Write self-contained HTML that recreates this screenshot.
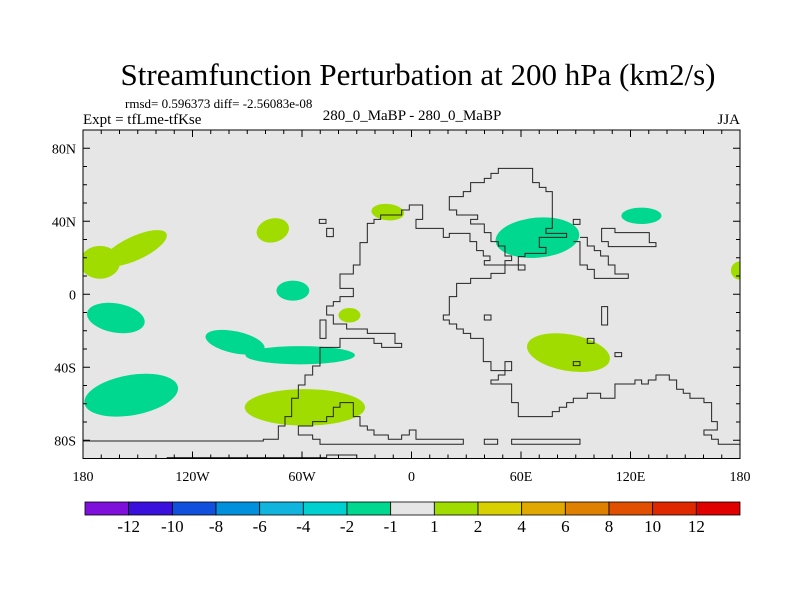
<!DOCTYPE html>
<html><head><meta charset="utf-8">
<style>
body{margin:0;background:#fff;}
svg text{font-family:"Liberation Serif",serif;fill:#000;}
</style></head>
<body>
<svg id="chart" width="800" height="600" viewBox="0 0 800 600" xmlns="http://www.w3.org/2000/svg">
<text x="418" y="85" font-size="31" text-anchor="middle">Streamfunction Perturbation at 200 hPa (km2/s)</text>
<text x="125" y="108" font-size="13">rmsd= 0.596373 diff= -2.56083e-08</text>
<text x="83" y="124" font-size="15">Expt = tfLme-tfKse</text>
<text x="412" y="120" font-size="15" text-anchor="middle">280_0_MaBP - 280_0_MaBP</text>
<text x="740" y="124" font-size="15" text-anchor="end">JJA</text>
<defs><clipPath id="pc"><rect x="83" y="130" width="657" height="328.5"/></clipPath></defs>
<rect x="83" y="130" width="657" height="328.5" fill="#e6e6e6"/>
<g id="blobs" clip-path="url(#pc)"></g>
<g clip-path="url(#pc)">
<g transform="translate(250,160) scale(0.3333)" fill="none" stroke="#222" stroke-width="1">
<path vector-effect="non-scaling-stroke" d="M-501,843 L40,843 L40,838 L85,838 L85,798 L105,798 L105,770 L125,770 L125,715 L145,715 L145,675 L165,675 L165,645 L188,645 L188,618 L210,618 L210,562 L270,562 L270,535 L372,535 L372,550 L395,550 L395,562 L455,562 L455,550 L435,550 L435,520 L352,520 L352,507 L290,507 L290,492 L250,492 L250,465 L230,465 L230,438 L250,438 L250,425 L270,425 L270,410 L310,410 L310,385 L270,385 L270,342 L310,342 L310,315 L330,315 L330,248 L352,248 L352,190 L372,190 L372,178 L392,178 L392,165 L455,165 L455,150 L478,150 L478,135 L518,135 L518,178 L498,178 L498,205 L580,205 L580,232 L598,232 L598,220 L660,220 L660,245 L680,245 L680,272 L700,272 L700,288 L720,288 L720,302 L703,302 L703,315 L805,315"/>
<path vector-effect="non-scaling-stroke" d="M765,315 L765,340 L723,340 L723,355 L662,355 L662,370 L620,370 L620,410 L598,410 L598,465 L580,465 L580,480 L598,480 L598,492 L620,492 L620,507 L640,507 L640,520 L662,520 L662,535 L700,535 L700,605 L723,605 L723,632 L765,632 L765,605 L785,605 L785,632 L765,632 L765,645 L745,645 L745,660 L723,660 L723,672 L785,672 L785,728 L805,728 L805,770 L907,770 L907,755 L928,755 L928,742 L950,742 L950,728 L970,728 L970,715 L1012,715 L1012,700 L1052,700 L1052,715 L1095,715 L1095,672 L1155,672 L1155,660 L1175,660 L1175,672 L1195,672 L1195,660 L1218,660 L1218,645 L1258,645 L1258,660 L1280,660 L1280,688 L1300,688 L1300,700 L1320,700 L1320,715 L1362,715 L1362,728 L1385,728 L1385,785 L1402,785 L1402,810 L1362,810 L1362,825 L1385,825 L1385,838 L1405,838 L1405,853 L1475,853"/>
<path vector-effect="non-scaling-stroke" d="M805,315 L805,290 L825,290 L825,280 L888,280 L888,262 L868,262 L868,232 L950,232 L950,220 L888,220 L888,205 L907,205 L907,95 L888,95 L888,82 L868,82 L868,68 L848,68 L848,25 L745,25 L745,40 L723,40 L723,55 L703,55 L703,68 L662,68 L662,95 L640,95 L640,110 L598,110 L598,150 L620,150 L620,165 L683,165 L683,178 L662,178 L662,192 L703,192 L703,218 L723,218 L723,245 L745,245 L745,258 L765,258 L765,288 L785,288 L785,302 L765,302 L765,315"/>
<path vector-effect="non-scaling-stroke" d="M970,245 L990,245 L990,315 L1012,315 L1012,328 L1033,328 L1033,355 L1135,355 L1135,342 L1095,342 L1095,315 L1075,315 L1075,288 L1052,288 L1052,272 L1033,272 L1033,258 L1012,258 L1012,232 L990,232"/>
<path vector-effect="non-scaling-stroke" d="M1055,205 L1095,205 L1095,218 L1198,218 L1198,248 L1218,248 L1218,260 L1075,260 L1075,245 L1055,245 Z"/>
<path vector-effect="non-scaling-stroke" d="M145,798 L145,825 L188,825 L188,838 L210,838 L210,853 L640,853 L640,838 L498,838 L498,810 L478,810 L478,825 L455,825 L455,838 L415,838 L415,825 L372,825 L372,810 L352,810 L352,798 L330,798 L330,770 L310,770 L310,728 L270,728 L270,742 L250,742 L250,770 L230,770 L230,785 L188,785 L188,798 Z"/>
<rect vector-effect="non-scaling-stroke" x="208" y="178" width="20" height="12"/>
<rect vector-effect="non-scaling-stroke" x="230" y="205" width="20" height="25"/>
<rect vector-effect="non-scaling-stroke" x="210" y="480" width="18" height="55"/>
<rect vector-effect="non-scaling-stroke" x="703" y="465" width="20" height="15"/>
<rect vector-effect="non-scaling-stroke" x="805" y="315" width="20" height="15"/>
<rect vector-effect="non-scaling-stroke" x="970" y="178" width="20" height="15"/>
<rect vector-effect="non-scaling-stroke" x="1055" y="440" width="18" height="55"/>
<rect vector-effect="non-scaling-stroke" x="1012" y="535" width="20" height="15"/>
<rect vector-effect="non-scaling-stroke" x="1095" y="578" width="20" height="12"/>
<rect vector-effect="non-scaling-stroke" x="970" y="605" width="20" height="12"/>
<rect vector-effect="non-scaling-stroke" x="703" y="838" width="40" height="15"/>
<rect vector-effect="non-scaling-stroke" x="785" y="838" width="205" height="15"/>
<path vector-effect="non-scaling-stroke" d="M1475,853 L1500,853 M-250,893 L230,893 L230,885 L320,885"/>
</g>
</g>
<rect x="83" y="130" width="657" height="328.5" fill="none" stroke="#000" stroke-width="1"/>
<g id="axes"></g>
<g id="colorbar"></g>
</svg>
<script>
const blobLons = [-170.7, -151.5, -76, -13, -65, -34, -162, -96.7, -61, -153.6, -58.4, 69, 126, 180, 86];
const blobLats = [17.5, 25.2, 35, 45, 2, -11.5, -13, -26.3, -33.4, -55.3, -62, 31, 43, 13, -32];
const blobRx = [11, 19, 9, 9, 9, 6, 16, 16.5, 30, 26, 33, 23, 11, 5, 23];
const blobRy = [9, 6.5, 6.5, 4.5, 5.5, 4, 8, 6, 5, 11, 10, 11, 4.5, 5, 10];
const blobRot = [0, -25, -15, 5, 0, 0, 10, 12, 0, -10, 0, -5, 0, 0, 10];
const blobVals = [1.5, 1.5, 1.5, 1.5, -1.5, 1.5, -1.5, -1.5, -1.5, -1.5, 1.5, -1.5, -1.5, 1.5, 1.5];
const levels = [-12, -10, -8, -6, -4, -2, -1, 1, 2, 4, 6, 8, 10, 12];
const colors = ["#7f10dc","#3a10dc","#1050dc","#0090dc","#10b4dc","#00d0d0","#00d890","#e6e6e6","#a0dc00","#d8d000","#e0a800","#e08000","#e05000","#e02800","#e00000"];
const xTickLons = [-180, -120, -60, 0, 60, 120, 180];
const xTickLabels = ["180","120W","60W","0","60E","120E","180"];
const yTickLats = [80, 40, 0, -40, -80];
const yTickLabels = ["80N","40N","0","40S","80S"];

const NS = "http://www.w3.org/2000/svg";
const X0 = 83, X1 = 740, Y0 = 130, Y1 = 458.5;
const xs = lon => X0 + (lon + 180) / 360 * (X1 - X0);
const ys = lat => Y0 + (90 - lat) / 180 * (Y1 - Y0);
const sc = (X1 - X0) / 360;
function colorFor(v){ let i = 0; while (i < levels.length && v >= levels[i]) i++; return colors[i]; }
function mk(tag, attrs, parent){ const e = document.createElementNS(NS, tag); for (const k in attrs) e.setAttribute(k, attrs[k]); parent.appendChild(e); return e; }

const gb = document.getElementById("blobs");
for (let i = 0; i < blobLons.length; i++) {
  const cx = xs(blobLons[i]), cy = ys(blobLats[i]);
  const e = mk("ellipse", {cx: cx, cy: cy, rx: blobRx[i]*sc, ry: blobRy[i]*sc, fill: colorFor(blobVals[i]), transform: `rotate(${blobRot[i]} ${cx} ${cy})`}, gb);
  
  
}

const ga = document.getElementById("axes");
for (let lon = -180; lon <= 180; lon += 10) {
  const x = xs(lon), major = lon % 60 === 0, l = major ? 7 : 4;
  mk("line", {x1: x, y1: Y0, x2: x, y2: Y0 + l, stroke: "#000"}, ga);
  mk("line", {x1: x, y1: Y1, x2: x, y2: Y1 - l, stroke: "#000"}, ga);
}
for (let lat = -90; lat <= 90; lat += 10) {
  const y = ys(lat), major = lat % 40 === 0, l = major ? 7 : 4;
  mk("line", {x1: X0, y1: y, x2: X0 + l, y2: y, stroke: "#000"}, ga);
  mk("line", {x1: X1, y1: y, x2: X1 - l, y2: y, stroke: "#000"}, ga);
}
xTickLons.forEach((lon, i) => {
  const t = mk("text", {x: xs(lon), y: 481, "font-size": 14, "text-anchor": "middle"}, ga);
  t.textContent = xTickLabels[i];
  
  
});
yTickLats.forEach((lat, i) => {
  const t = mk("text", {x: 76, y: ys(lat) + 5, "font-size": 14, "text-anchor": "end"}, ga);
  t.textContent = yTickLabels[i];
  
  
});

const gc = document.getElementById("colorbar");
const CB0 = 85, CB1 = 740, bw = (CB1 - CB0) / colors.length;
colors.forEach((c, i) => {
  const r = mk("rect", {x: CB0 + i*bw, y: 502, width: bw, height: 13, fill: c, stroke: "#000", "stroke-width": 0.8}, gc);
  
  
});
levels.forEach((v, i) => {
  const t = mk("text", {x: CB0 + (i+1)*bw, y: 532, "font-size": 17, "text-anchor": "middle"}, gc);
  t.textContent = String(v);
  
  
});
</script>
</body></html>
